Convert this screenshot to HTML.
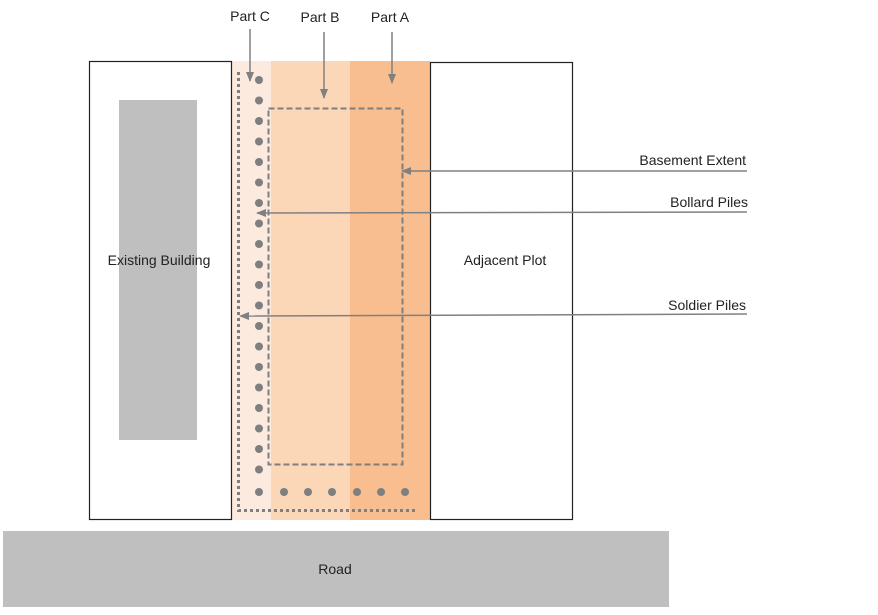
<!DOCTYPE html>
<html><head><meta charset="utf-8"><style>
html,body{margin:0;padding:0;background:#fff;}
svg text{font-family:"Liberation Sans",sans-serif;font-size:14px;fill:#222;}
</style></head><body>
<svg width="878" height="610" viewBox="0 0 878 610" xmlns="http://www.w3.org/2000/svg">
<defs>
<marker id="ah" markerWidth="10" markerHeight="8" refX="9" refY="4" orient="auto" markerUnits="userSpaceOnUse">
<path d="M0,0 L10,4 L0,8 z" fill="#808080"/></marker>
</defs>
<!-- colored strips -->
<rect x="232" y="61" width="39" height="459" fill="#fdeadf"/>
<rect x="271" y="61" width="79" height="459" fill="#fbd6b7"/>
<rect x="350" y="61" width="80" height="459" fill="#f9be8f"/>
<!-- boxes -->
<rect x="89.5" y="61.5" width="142" height="458" fill="#fff" stroke="#222" stroke-width="1.2"/>
<rect x="119" y="100" width="78" height="340" fill="#bfbfbf"/>
<rect x="430.5" y="62.5" width="142" height="457" fill="#fff" stroke="#222" stroke-width="1.2"/>
<rect x="3" y="531" width="666" height="76" fill="#bfbfbf"/>
<text x="159" y="265" text-anchor="middle">Existing Building</text>
<text x="505" y="265" text-anchor="middle">Adjacent Plot</text>
<text x="335" y="574" text-anchor="middle">Road</text>
<!-- dotted soldier pile line -->
<path d="M238.5 72 V510.5 H415" fill="none" stroke="#7f7f7f" stroke-width="3" stroke-dasharray="3,3"/>
<!-- dashed basement -->
<rect x="268.5" y="108.5" width="134" height="356" fill="none" stroke="#7f7f7f" stroke-width="2" stroke-dasharray="6,3"/>
<!-- dots -->
<g fill="#7f7f7f">
<circle cx="259" cy="80" r="4"/><circle cx="259" cy="100.5" r="4"/><circle cx="259" cy="121" r="4"/><circle cx="259" cy="141.5" r="4"/><circle cx="259" cy="162" r="4"/><circle cx="259" cy="182.5" r="4"/><circle cx="259" cy="203" r="4"/><circle cx="259" cy="223.5" r="4"/><circle cx="259" cy="244" r="4"/><circle cx="259" cy="264.5" r="4"/><circle cx="259" cy="285" r="4"/><circle cx="259" cy="305.5" r="4"/><circle cx="259" cy="326" r="4"/><circle cx="259" cy="346.5" r="4"/><circle cx="259" cy="367" r="4"/><circle cx="259" cy="387.5" r="4"/><circle cx="259" cy="408" r="4"/><circle cx="259" cy="428.5" r="4"/><circle cx="259" cy="449" r="4"/><circle cx="259" cy="469.5" r="4"/>
<circle cx="259" cy="492" r="4"/><circle cx="284" cy="492" r="4"/><circle cx="308" cy="492" r="4"/><circle cx="332" cy="492" r="4"/><circle cx="357" cy="492" r="4"/><circle cx="381" cy="492" r="4"/><circle cx="405" cy="492" r="4"/>
</g>
<!-- top labels -->
<text x="250" y="21" text-anchor="middle">Part C</text>
<text x="320" y="22" text-anchor="middle">Part B</text>
<text x="390" y="22" text-anchor="middle">Part A</text>
<g stroke="#808080" stroke-width="1.5" fill="none">
<line x1="250" y1="29" x2="250" y2="81" marker-end="url(#ah)"/>
<line x1="324" y1="32" x2="324" y2="98" marker-end="url(#ah)"/>
<line x1="392" y1="32" x2="392" y2="83" marker-end="url(#ah)"/>
<line x1="747" y1="171" x2="402" y2="171" marker-end="url(#ah)"/>
<line x1="747" y1="212" x2="257" y2="213" marker-end="url(#ah)"/>
<line x1="747" y1="314" x2="240" y2="316" marker-end="url(#ah)"/>
</g>
<text x="746" y="165" text-anchor="end">Basement Extent</text>
<text x="748" y="207" text-anchor="end">Bollard Piles</text>
<text x="746" y="310" text-anchor="end">Soldier Piles</text>
</svg>
</body></html>
